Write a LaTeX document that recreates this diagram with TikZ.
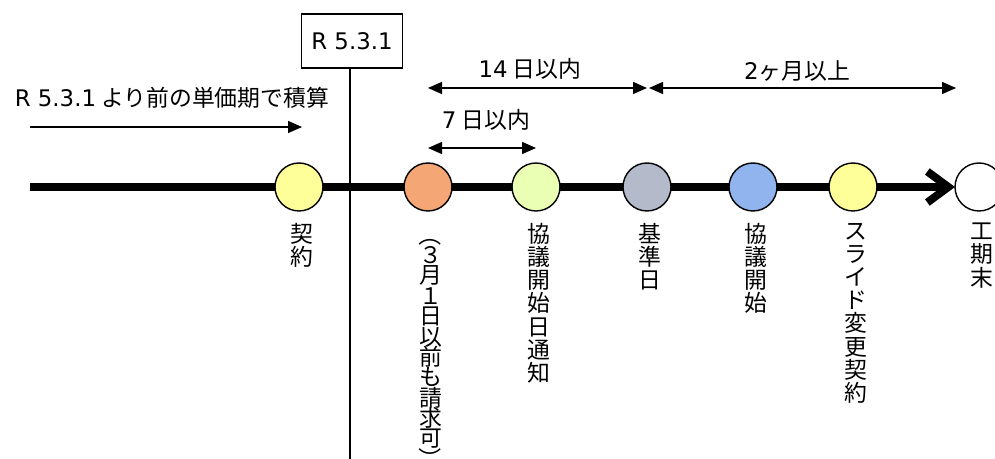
\documentclass[tikz,border=0pt]{standalone}
\usepackage{fontspec}
\setmainfont{Noto Sans CJK JP}
\newfontfamily\lat{DejaVu Sans}
\usetikzlibrary{positioning,arrows.meta}

\definecolor{dotyellow}{HTML}{FFFF99}
\definecolor{dotorange}{HTML}{F4A674}
\definecolor{dotlime}{HTML}{EBFFB4}
\definecolor{dotgray}{HTML}{B4BACA}
\definecolor{dotblue}{HTML}{91B3EE}

\newcommand{\tateparen}[1]{\rotatebox[origin=c]{-90}{#1}}

\begin{document}
\begin{tikzpicture}[x=0.02cm, y=-0.02cm,
    font=\fontsize{13}{13}\selectfont,
    dot/.style={circle, draw, line width=0.8pt, minimum size=0.96cm, inner sep=0pt},
    tate/.style={align=center, inner sep=0pt, xshift=0.05cm, font=\fontsize{13}{13.2}\selectfont},
    tight/.style={font={\fontsize{13}{11.6}\selectfont\lineskiplimit=-20pt}},
    span/.style={line width=0.8pt, {Triangle[length=0.28cm,width=0.24cm]}-{Triangle[length=0.28cm,width=0.24cm]}},
    onespan/.style={line width=0.8pt, -{Triangle[length=0.28cm,width=0.24cm]}}]
    \useasboundingbox (0,0) rectangle (995,459);

    % Timeline
    \coordinate (tstart) at (30,187);
    \coordinate (tend) at (955,187);
    \draw[line width=4.5pt, -{Straight Barb[length=0.42cm,width=0.62cm]}] (tstart) -- (tend);

    % Date marker
    \node[draw, line width=0.7pt, minimum width=2.02cm, minimum height=1.08cm] (r531) at (352,41) {\lat R 5.3.1};
    \coordinate (vbottom) at (350,459);
    \draw[line width=1.2pt] (r531.south -| vbottom) -- (vbottom);

    % Events
    \node[dot, fill=dotyellow] (keiyaku) at (299,187) {};
    \node[dot, fill=dotorange] (seikyu) at (428,187) {};
    \node[dot, fill=dotlime] (tsuchi) at (536,187) {};
    \node[dot, fill=dotgray] (kijun) at (647,187) {};
    \node[dot, fill=dotblue] (kyogi) at (753,187) {};
    \node[dot, fill=dotyellow] (slide) at (853,187) {};
    \node[dot, fill=white] (kouki) at (979,187) {};

    % Vertical labels
    \node[tate, below=0.22cm of keiyaku] (keiyakulbl) {契\\約};
    \node[tate, tight, below=0.22cm of seikyu] (seikyulbl) {\tateparen{（}\\３\\月\\１\\日\\以\\前\\も\\請\\求\\可\\\tateparen{）}};
    \node[tate, below=0.22cm of tsuchi] (tsuchilbl) {協\\議\\開\\始\\日\\通\\知};
    \node[tate, below=0.22cm of kijun] (kijunlbl) {基\\準\\日};
    \node[tate, below=0.22cm of kyogi] (kyogilbl) {協\\議\\開\\始};
    \node[tate, below=0.22cm of slide] (slidelbl) {ス\\ラ\\イ\\ド\\変\\更\\契\\約};
    \node[tate, below=0.22cm of kouki] (koukilbl) {工\\期\\末};

    % Periods
    \node (prelbl) at (172,98) {{\lat R 5.3.1} より前の単価期で積算};
    \coordinate (prestart) at (30,127);
    \coordinate (preend) at (302,127);
    \draw[onespan] (prestart) -- (preend);

    \node (d14lbl) at (530,69) {{\lat 14} 日以内};
    \coordinate (d14a) at (seikyu |- 0,88);
    \coordinate (d14b) at (kijun |- 0,88);
    \draw[span] (d14a) -- (d14b);

    \node (m2lbl) at (797,71) {{\lat 2}ヶ月以上};
    \coordinate (m2a) at (649,88);
    \coordinate (m2b) at (956,88);
    \draw[span] (m2a) -- (m2b);

    \node (d7lbl) at (486,120) {{\lat 7} 日以内};
    \coordinate (d7a) at (seikyu |- 0,148);
    \coordinate (d7b) at (tsuchi |- 0,148);
    \draw[span] (d7a) -- (d7b);
\end{tikzpicture}
\end{document}
